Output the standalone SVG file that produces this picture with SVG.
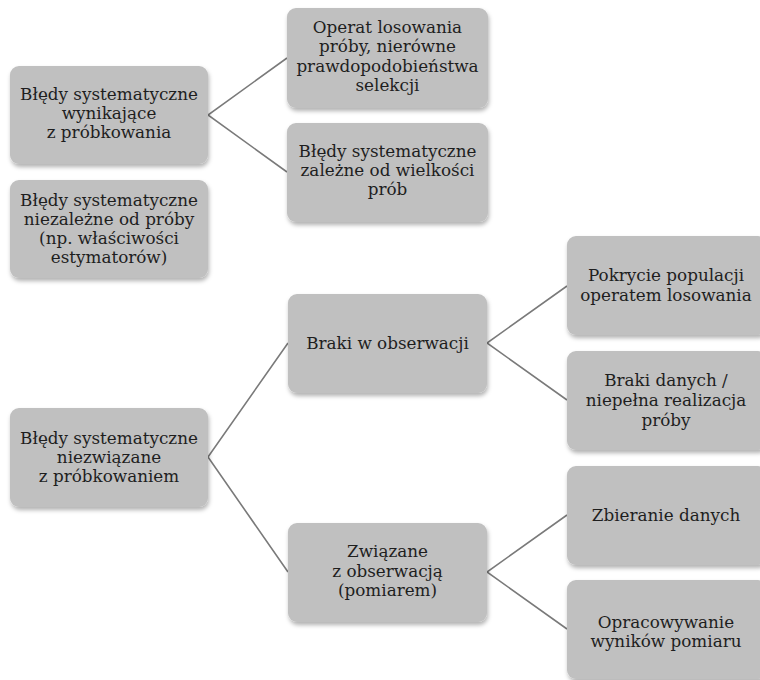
<svg xmlns="http://www.w3.org/2000/svg" width="760" height="680" viewBox="0 0 760 680">
  <defs>
    <filter id="shadow" x="-10%" y="-10%" width="120%" height="125%">
      <feDropShadow dx="1" dy="3" stdDeviation="2" flood-color="#000" flood-opacity="0.3"/>
    </filter>
  </defs>
  <style>
    .box { fill: #c0c0c0; filter: url(#shadow); }
    .lbl { font-family: "DejaVu Serif", "Liberation Serif", serif; font-size: 16.8px; fill: #1e1e1e; text-anchor: middle; }
    .link { stroke: #7a7a7a; stroke-width: 1.6; fill: none; }
  </style>
  <rect width="760" height="680" fill="#ffffff"/>

  <!-- connectors -->
  <g id="connectors">
    <polyline class="link" points="287,58 208,115 287,172"/>
    <polyline class="link" points="288,343 208,457 288,572"/>
    <polyline class="link" points="567,286 487,343 567,400"/>
    <polyline class="link" points="567,515 487,572 567,629"/>
  </g>

  <g id="n-sampling">
    <rect class="box" x="10" y="66" width="198" height="98" rx="9"/>
    <text class="lbl" x="109" y="100">Błędy systematyczne</text>
    <text class="lbl" x="109" y="119">wynikające</text>
    <text class="lbl" x="109" y="138">z próbkowania</text>
  </g>

  <g id="n-independent">
    <rect class="box" x="10" y="180" width="198" height="98" rx="9"/>
    <text class="lbl" x="109" y="206">Błędy systematyczne</text>
    <text class="lbl" x="109" y="225">niezależne od próby</text>
    <text class="lbl" x="109" y="244">(np. właściwości</text>
    <text class="lbl" x="109" y="263">estymatorów)</text>
  </g>

  <g id="n-frame">
    <rect class="box" x="287" y="8" width="201" height="100" rx="9"/>
    <text class="lbl" x="387.5" y="33">Operat losowania</text>
    <text class="lbl" x="387.5" y="52">próby, nierówne</text>
    <text class="lbl" x="387.5" y="72">prawdopodobieństwa</text>
    <text class="lbl" x="387.5" y="91">selekcji</text>
  </g>

  <g id="n-size">
    <rect class="box" x="287" y="123" width="201" height="99" rx="9"/>
    <text class="lbl" x="387.5" y="157">Błędy systematyczne</text>
    <text class="lbl" x="387.5" y="176">zależne od wielkości</text>
    <text class="lbl" x="387.5" y="195">prób</text>
  </g>

  <g id="n-nonsampling">
    <rect class="box" x="10" y="408" width="198" height="99" rx="9"/>
    <text class="lbl" x="109" y="444">Błędy systematyczne</text>
    <text class="lbl" x="109" y="463">niezwiązane</text>
    <text class="lbl" x="109" y="482">z próbkowaniem</text>
  </g>

  <g id="n-nonobservation">
    <rect class="box" x="288" y="294" width="199" height="99" rx="9"/>
    <text class="lbl" x="387.5" y="349">Braki w obserwacji</text>
  </g>

  <g id="n-coverage">
    <rect class="box" x="567" y="236" width="200" height="99" rx="9"/>
    <text class="lbl" x="666" y="281">Pokrycie populacji</text>
    <text class="lbl" x="666" y="301">operatem losowania</text>
  </g>

  <g id="n-nonresponse">
    <rect class="box" x="567" y="351" width="200" height="99" rx="9"/>
    <text class="lbl" x="666" y="386">Braki danych /</text>
    <text class="lbl" x="666" y="406">niepełna realizacja</text>
    <text class="lbl" x="666" y="426">próby</text>
  </g>

  <g id="n-observation">
    <rect class="box" x="288" y="523" width="199" height="99" rx="9"/>
    <text class="lbl" x="387.5" y="557">Związane</text>
    <text class="lbl" x="387.5" y="577">z obserwacją</text>
    <text class="lbl" x="387.5" y="596">(pomiarem)</text>
  </g>

  <g id="n-collection">
    <rect class="box" x="567" y="466" width="200" height="99" rx="9"/>
    <text class="lbl" x="666" y="521">Zbieranie danych</text>
  </g>

  <g id="n-processing">
    <rect class="box" x="567" y="580" width="200" height="99" rx="9"/>
    <text class="lbl" x="666" y="628">Opracowywanie</text>
    <text class="lbl" x="666" y="647">wyników pomiaru</text>
  </g>
</svg>
